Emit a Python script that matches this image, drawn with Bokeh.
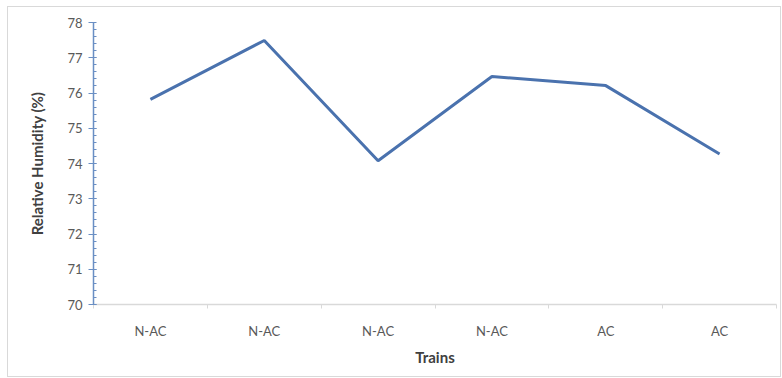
from bokeh.plotting import figure
from bokeh.models import FixedTicker, Range1d
from bokeh.embed import file_html
from bokeh.resources import INLINE
import numpy as np

categories = ["N-AC", "N-AC", "N-AC", "N-AC", "AC", "AC"]
humidity = [75.82, 77.49, 74.08, 76.47, 76.21, 74.27]
y_ticks = [70, 71, 72, 73, 74, 75, 76, 77, 78]

xs = [i + 0.5 for i in range(len(categories))]

p = figure(width=772, height=369, output_backend="svg", toolbar_location=None,
           x_range=Range1d(0, len(categories)), y_range=Range1d(70, 78),
           min_border_left=85, min_border_right=4, min_border_top=15, min_border_bottom=72)
p.margin = (7, 0, 0, 8)
p.styles = {"outline": "1px solid #d9d9d9"}
p.outline_line_color = None
p.xgrid.visible = False
p.ygrid.visible = False

p.line(xs, humidity, line_color="#4A72AE", line_width=3)

font = "Lato"
# X axis
p.xaxis.ticker = FixedTicker(ticks=xs, minor_ticks=list(range(len(categories) + 1)))
p.xaxis.major_label_overrides = {x: c for x, c in zip(xs, categories)}
p.xaxis.major_tick_out = 0
p.xaxis.major_tick_in = 0
p.xaxis.minor_tick_out = 4
p.xaxis.minor_tick_in = 0
p.xaxis.minor_tick_line_color = "#d9d9d9"
p.xaxis.axis_line_color = "#d9d9d9"
p.xaxis.axis_line_width = 1.5
p.xaxis.major_label_standoff = 14
p.xaxis.axis_label = "Trains"
p.xaxis.axis_label_standoff = 6

# Y axis
p.yaxis.ticker = FixedTicker(ticks=y_ticks, minor_ticks=list(np.arange(70, 78.01, 0.2)))
p.yaxis.axis_line_color = "#6A8FC4"
p.yaxis.axis_line_width = 1.5
p.yaxis.major_tick_line_color = "#6A8FC4"
p.yaxis.minor_tick_line_color = "#6A8FC4"
p.yaxis.major_tick_out = 5
p.yaxis.major_tick_in = 3
p.yaxis.minor_tick_out = 0
p.yaxis.minor_tick_in = 3
p.yaxis.major_label_standoff = 6
p.yaxis.axis_label = "Relative Humidity (%)"
p.yaxis.axis_label_standoff = 18

for ax in (p.xaxis[0], p.yaxis[0]):
    ax.major_label_text_font = font
    ax.major_label_text_font_size = "13px"
    ax.major_label_text_color = "#595959"
    ax.axis_label_text_font = font
    ax.axis_label_text_font_size = "15px"
    ax.axis_label_text_font_style = "bold"
    ax.axis_label_text_color = "#404040"

open("out.html", "w").write(file_html(p, INLINE))
